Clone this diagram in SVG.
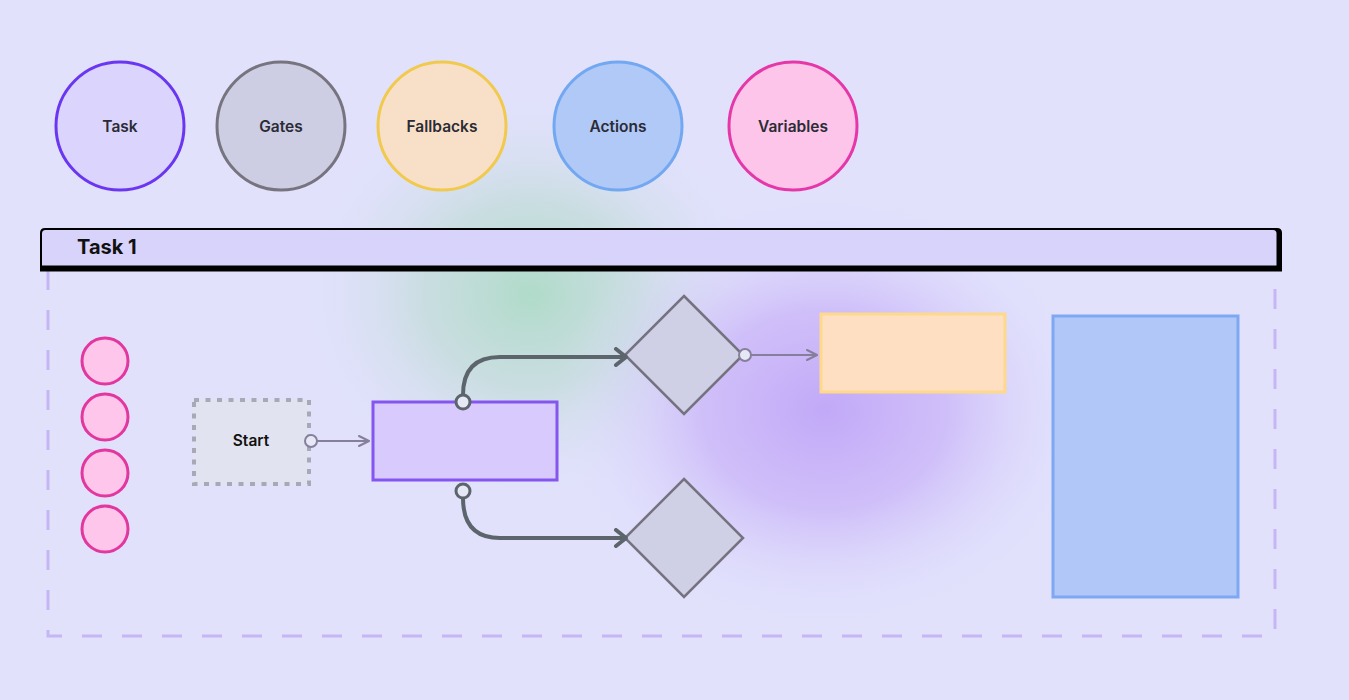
<svg xmlns="http://www.w3.org/2000/svg" width="1349" height="700" viewBox="0 0 1349 700">
<defs>
<radialGradient id="gGreen" cx="0.5" cy="0.5" r="0.5">
<stop offset="0" stop-color="#b0dbc9" stop-opacity="1"/>
<stop offset="0.45" stop-color="#c0dcd6" stop-opacity="0.7"/>
<stop offset="1" stop-color="#e1e1fc" stop-opacity="0"/>
</radialGradient>
<radialGradient id="gPurple" cx="0.5" cy="0.5" r="0.5">
<stop offset="0" stop-color="#c2a9f8" stop-opacity="1"/>
<stop offset="0.45" stop-color="#c9b3f8" stop-opacity="0.75"/>
<stop offset="1" stop-color="#e1e1fc" stop-opacity="0"/>
</radialGradient>
<marker id="chev" viewBox="0 0 12 12" refX="11" refY="6" markerWidth="12" markerHeight="12" markerUnits="userSpaceOnUse" orient="auto">
<path d="M1,1 L11,6 L1,11" fill="none" stroke="#857f9c" stroke-width="2" stroke-linecap="round" stroke-linejoin="round"/>
</marker>
<marker id="chevDark" viewBox="0 0 14 20" refX="13" refY="10" markerWidth="14" markerHeight="20" markerUnits="userSpaceOnUse" orient="auto">
<path d="M3,2 L13,10 L3,18" fill="none" stroke="#5c646c" stroke-width="4" stroke-linecap="round" stroke-linejoin="round"/>
</marker>
<style>
.lbl{font-family:Inter,"Liberation Sans",sans-serif;font-weight:600;font-size:15.5px;fill:#2b2b35;text-anchor:middle;dominant-baseline:central}
.var{fill:#fdc6ea;stroke:#e2379f;stroke-width:3}
.gate{fill:#cfd0e6;stroke:#75737f;stroke-width:2.5}
.conn{fill:none;stroke:#5c646c;stroke-width:4;stroke-linecap:round}
.connL{fill:none;stroke:#857f9c;stroke-width:2}
.port{fill:#e6e8f5;stroke:#5c646c;stroke-width:3}
.portL{fill:#e6e8f5;stroke:#857f9c;stroke-width:2}
</style>
</defs>
<rect width="1349" height="700" fill="#e1e1fc"/>
<ellipse cx="530" cy="295" rx="240" ry="210" fill="url(#gGreen)"/>
<ellipse cx="825" cy="410" rx="270" ry="220" fill="url(#gPurple)"/>

<g id="legend-task"><circle cx="120" cy="126" r="64" fill="#dbd4fd" stroke="#6a36f1" stroke-width="3"/><text class="lbl" x="120" y="126">Task</text></g>
<g id="legend-gates"><circle cx="281" cy="126" r="64" fill="#cdcde3" stroke="#75747f" stroke-width="3"/><text class="lbl" x="281" y="126">Gates</text></g>
<g id="legend-fallbacks"><circle cx="442" cy="126" r="64" fill="#f8e0c8" stroke="#f1c94c" stroke-width="3"/><text class="lbl" x="442" y="126">Fallbacks</text></g>
<g id="legend-actions"><circle cx="618" cy="126" r="64" fill="#b0c9f7" stroke="#72a7f1" stroke-width="3"/><text class="lbl" x="618" y="126">Actions</text></g>
<g id="legend-variables"><circle cx="793" cy="126" r="64" fill="#fcc5e9" stroke="#e637a8" stroke-width="3"/><text class="lbl" x="793" y="126">Variables</text></g>

<g id="task1-container">
<path d="M48,270 L48,636 L1275,636 L1275,270" fill="none" stroke="#c6b6f4" stroke-width="3" stroke-dasharray="20 20"/>
</g>
<g id="task1-header">
<path d="M40,271.5 L40,233 Q40,228 45,228 L1277,228 Q1282,228 1282,233 L1282,271.5 Z" fill="#000"/>
<path d="M42,265.5 L42,233.5 Q42,230 45.5,230 L1273,230 Q1276.5,230 1276.5,233.5 L1276.5,265.5 Z" fill="#d8d3fb"/>
<text x="77" y="246.5" font-family="Inter,'Liberation Sans',sans-serif" font-weight="700" font-size="20" fill="#111" dominant-baseline="central">Task 1</text>
</g>

<g id="var1"><circle class="var" cx="105" cy="361" r="23"/></g>
<g id="var2"><circle class="var" cx="105" cy="417" r="23"/></g>
<g id="var3"><circle class="var" cx="105" cy="473" r="23"/></g>
<g id="var4"><circle class="var" cx="105" cy="529" r="23"/></g>

<g id="start">
<rect x="194" y="400" width="115" height="84" fill="#e2e3f0" stroke="#a9a9b5" stroke-width="4" stroke-dasharray="5 6.5"/>
<text class="lbl" x="251" y="440" style="fill:#111">Start</text>
</g>

<g id="task-node"><rect x="373" y="402" width="184" height="78" fill="#d8cafd" stroke="#8455ef" stroke-width="3"/></g>

<g id="gate1"><polygon class="gate" points="684,296 743,355 684,414 625,355"/></g>
<g id="gate2"><polygon class="gate" points="684,479 743,538 684,597 625,538"/></g>

<g id="fallback"><rect x="821" y="314" width="184" height="78" fill="#ffdfc1" stroke="#fed98c" stroke-width="3"/></g>
<g id="action"><rect x="1053" y="316" width="185" height="281" fill="#b0c7f8" stroke="#7ea9f2" stroke-width="3"/></g>

<g id="connectors">
<path class="connL" d="M317,441 L369,441" marker-end="url(#chev)"/>
<circle class="portL" cx="311" cy="441" r="6"/>
<path class="conn" d="M463,396 L463,395 Q463,357 500,357 L626,357" marker-end="url(#chevDark)"/>
<circle class="port" cx="463" cy="402" r="7"/>
<path class="conn" d="M463,498 Q463,538 500,538 L626,538" marker-end="url(#chevDark)"/>
<circle class="port" cx="463" cy="491" r="7"/>
<path class="connL" d="M751,355 L817,355" marker-end="url(#chev)"/>
<circle class="portL" cx="745" cy="355" r="6"/>
</g>
</svg>
